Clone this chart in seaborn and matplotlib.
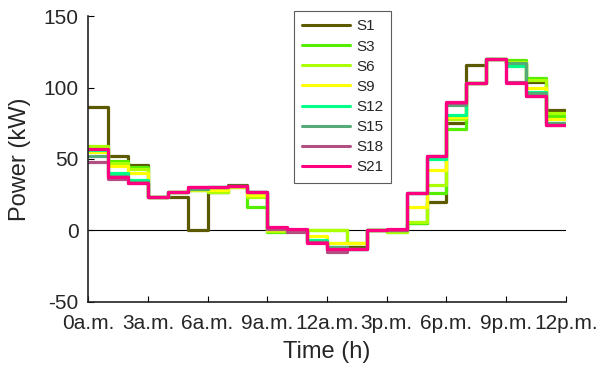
import numpy as np
import pandas as pd
import matplotlib
matplotlib.use("Agg")
import matplotlib.pyplot as plt
import seaborn as sns

hours = list(range(24))
series_names = ["S1", "S3", "S6", "S9", "S12", "S15", "S18", "S21"]
S1 = [86, 52, 46, 23, 23.5, 0, 27, 32, 27, 0, 0, -8, -13, -12, 0, 0, 5, 20, 75, 116, 120, 117, 104, 84]
S3 = [58, 48.6, 44, 23, 27, 28, 27, 30, 16.5, -1, 0, 0, 0, -9, 0, -1, 5, 26, 71, 103, 120, 119, 107, 80]
S6 = [59, 47, 43, 23, 27, 28, 27, 30, 23, -0.5, 0, 0, 0, -9, 0, -1, 6, 32, 78, 103, 120, 118, 105, 82]
S9 = [55, 45, 40, 23, 27, 28, 28, 30, 25, 0, 0, -4, -9, -9, 0, 0, 16, 42, 79, 103, 120, 117, 100, 78]
S12 = [56, 40, 35, 23, 27, 29, 30, 31, 27, 1, 0, -7, -12, -13, 0, 0, 26, 50, 81, 103, 120, 115, 97, 75]
S15 = [52, 38, 34, 23, 27, 29, 30, 31, 27, 1, 0, -8, -12, -13, 0, 0, 26, 52, 88, 103, 120, 117, 96, 75]
S18 = [48, 36, 33, 23, 27, 30, 30, 31, 27, 1, -1.6, -8, -15.5, -13, 0, 0, 26, 52, 89, 103, 120, 104, 94, 74]
S21 = [57, 37, 33, 23, 27, 30, 30, 31, 27, 2, 0.5, -9, -13, -13, 0, 1, 26, 52, 90, 103, 120, 103, 94, 73.5]
values = [S1, S3, S6, S9, S12, S15, S18, S21]
colors = ["#5c5a00", "#55ee00", "#aaff00", "#ffff00", "#00ff88", "#55aa77", "#b05080", "#ff0080"]
tick_pos = [0, 3, 6, 9, 12, 15, 18, 21, 24]
tick_labels = ["0a.m.", "3a.m.", "6a.m.", "9a.m.", "12a.m.", "3p.m.", "6p.m.", "9p.m.", "12p.m."]

rows = []
for name, vals in zip(series_names, values):
    xs = hours + [24]
    ys = list(vals) + [vals[-1]]
    for x, y in zip(xs, ys):
        rows.append({"Time": x, "Power": y, "Series": name})
df = pd.DataFrame(rows)

sns.set_style("ticks")
plt.rcParams["font.family"] = ["Liberation Sans", "DejaVu Sans"]
plt.rcParams["axes.unicode_minus"] = False

txt = "#262626"
fig = plt.figure(figsize=(6, 3.76), dpi=100)
ax = fig.add_axes([0.147, 0.198, 0.796, 0.759])
ax.axhline(0, color="black", lw=0.8, zorder=1)
sns.lineplot(data=df, x="Time", y="Power", hue="Series", hue_order=series_names,
             palette=dict(zip(series_names, colors)), drawstyle="steps-post",
             lw=2.3, ax=ax, legend=True)
ax.set_xlim(0, 24)
ax.set_ylim(-50, 150)
ax.set_xticks(tick_pos)
ax.set_xticklabels(tick_labels)
ax.set_yticks([-50, 0, 50, 100, 150])
ax.tick_params(direction="in", labelsize=15, length=4, width=0.8, colors="black",
               labelcolor=txt)
ax.tick_params(axis="x", pad=9)
ax.tick_params(axis="y", pad=7)
ax.spines["top"].set_visible(False)
ax.spines["right"].set_visible(False)
for s in ["left", "bottom"]:
    ax.spines[s].set_linewidth(1.2)
    ax.spines[s].set_color("#222222")
ax.set_xlabel("Time (h)", fontsize=17, color=txt, labelpad=6)
ax.set_ylabel("Power (kW)", fontsize=17, color=txt, labelpad=9)

leg = ax.legend(loc="upper left", bbox_to_anchor=(0.431, 1.018), borderaxespad=0,
                fontsize=11, frameon=True, fancybox=False, edgecolor="#333333",
                handlelength=3.1, labelspacing=0.4, borderpad=0.55, handletextpad=0.4)
leg.get_frame().set_linewidth(0.8)
for t in leg.get_texts():
    t.set_color(txt)
for line in leg.get_lines():
    line.set_linewidth(2.2)

fig.savefig("out.png", dpi=100)
